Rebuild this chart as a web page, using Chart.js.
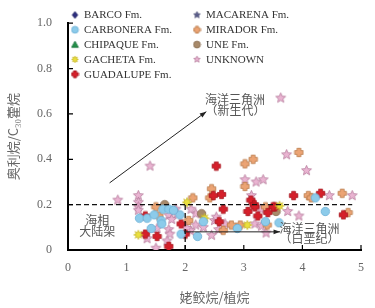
<!DOCTYPE html>
<html>
<head>
<meta charset="utf-8">
<script src="https://cdn.jsdelivr.net/npm/chart.js@4.4.0/dist/chart.umd.min.js"></script>
<style>
  html, body { margin: 0; padding: 0; background: #fff; }
  #wrap { width: 375px; height: 308px; }
</style>
</head>
<body>
<div id="wrap"><canvas id="chart" width="375" height="308"></canvas></div>
<script>
// Veri noktaları [pr/ph, oleanan/C30 hopan]
const barco = [];
const chipaque = [];
const macarena = [];

const carbonera = [
  [4.22, 0.23], [4.39, 0.17], [3.60, 0.12], [2.31, 0.125], [3.37, 0.125], [2.89, 0.095],
  [2.21, 0.06], [1.62, 0.18], [1.72, 0.18], [1.91, 0.155], [1.22, 0.14], [1.35, 0.14],
  [1.47, 0.155], [1.59, 0.13], [1.60, 0.115], [1.42, 0.095], [1.93, 0.07], [1.80, 0.175]
];

const gacheta = [[3.61, 0.195], [2.33, 0.14], [3.06, 0.11], [2.03, 0.21], [1.20, 0.067]];

const guadalupe = [
  [2.53, 0.37], [3.85, 0.24], [4.31, 0.25], [3.53, 0.19], [4.70, 0.155], [2.62, 0.245],
  [2.48, 0.24], [3.12, 0.22], [3.18, 0.20], [3.19, 0.19], [2.65, 0.18], [3.07, 0.17],
  [3.41, 0.165], [3.50, 0.19], [3.24, 0.15], [2.58, 0.125], [1.32, 0.15], [1.93, 0.115],
  [2.00, 0.07], [1.32, 0.07], [1.52, 0.06], [1.72, 0.016]
];

const mirador = [
  [3.02, 0.38], [3.16, 0.40], [3.94, 0.43], [4.10, 0.24], [4.15, 0.23], [4.68, 0.25],
  [4.78, 0.165], [3.02, 0.28], [2.45, 0.27], [2.42, 0.23], [2.13, 0.23], [3.37, 0.19],
  [2.79, 0.11], [2.94, 0.11], [3.40, 0.11], [2.65, 0.087], [1.50, 0.19], [1.55, 0.15],
  [2.06, 0.13]
];

const une = [[1.65, 0.20], [2.28, 0.16], [3.55, 0.17]];

const unknown = [
  [3.63, 0.67], [1.40, 0.37], [3.73, 0.42], [4.07, 0.35], [4.46, 0.24], [4.85, 0.24],
  [3.75, 0.17], [3.94, 0.15], [3.38, 0.075], [3.02, 0.31], [3.21, 0.30], [3.33, 0.31],
  [3.13, 0.24], [3.29, 0.18], [2.18, 0.16], [2.10, 0.18], [2.50, 0.13], [2.53, 0.145],
  [2.18, 0.11], [2.31, 0.10], [2.68, 0.115], [3.19, 0.115], [3.30, 0.105], [2.57, 0.09],
  [2.09, 0.085], [2.45, 0.065], [0.85, 0.22], [1.20, 0.24], [1.20, 0.21], [1.20, 0.19],
  [1.20, 0.175], [1.84, 0.18], [1.86, 0.16], [1.72, 0.153], [1.77, 0.135], [1.52, 0.095],
  [2.03, 0.095], [1.72, 0.09], [1.74, 0.07], [1.35, 0.05], [1.69, 0.04], [1.50, 0.008]
];

const xTicks = [0, 1, 2, 3, 4, 5];
const yTicks = [0, 0.2, 0.4, 0.6, 0.8, 1.0];

// İşaretçi çizen yardımcı fonksiyon
function marker(shape, fill, stroke, r) {
  const s = Math.ceil(r * 2 + 2);
  const c = document.createElement("canvas");
  c.width = s; c.height = s;
  const g = c.getContext("2d");
  const cx = s / 2, cy = s / 2;
  g.beginPath();
  if (shape === "circle") {
    g.arc(cx, cy, r, 0, Math.PI * 2);
  } else if (shape === "star" || shape === "burst") {
    const n = shape === "star" ? 5 : 8;
    const inner = shape === "star" ? r * 0.45 : r * 0.5;
    for (let i = 0; i < n * 2; i++) {
      const rad = i % 2 ? inner : r;
      const a = -Math.PI / 2 + i * Math.PI / n;
      g.lineTo(cx + rad * Math.cos(a), cy + rad * Math.sin(a));
    }
  } else if (shape === "plus") {
    const w = r * 0.45;
    const pts = [[-w, -r], [w, -r], [w, -w], [r, -w], [r, w], [w, w], [w, r], [-w, r], [-w, w], [-r, w], [-r, -w], [-w, -w]];
    pts.forEach(p => g.lineTo(cx + p[0], cy + p[1]));
  } else if (shape === "diamond") {
    g.moveTo(cx, cy - r); g.lineTo(cx + r * 0.8, cy); g.lineTo(cx, cy + r); g.lineTo(cx - r * 0.8, cy);
  } else if (shape === "triangle") {
    g.moveTo(cx, cy - r); g.lineTo(cx + r, cy + r * 0.8); g.lineTo(cx - r, cy + r * 0.8);
  }
  g.closePath();
  g.fillStyle = fill;
  g.fill();
  g.lineWidth = 0.8;
  g.strokeStyle = stroke;
  g.stroke();
  return c;
}

const series = [
  { label: "BARCO Fm.", data: barco, shape: "diamond", fill: "#2d2f80", stroke: "#1c1d5a", r: 4 },
  { label: "CARBONERA Fm.", data: carbonera, shape: "circle", fill: "#8ccbea", stroke: "#6aaed6", r: 4.2 },
  { label: "CHIPAQUE Fm.", data: chipaque, shape: "triangle", fill: "#23914a", stroke: "#17703a", r: 4.2 },
  { label: "GACHETA Fm.", data: gacheta, shape: "burst", fill: "#ebe13c", stroke: "#c9b926", r: 4.6 },
  { label: "GUADALUPE Fm.", data: guadalupe, shape: "plus", fill: "#d6202b", stroke: "#a5121b", r: 4.2 },
  { label: "MACARENA Fm.", data: macarena, shape: "star", fill: "#5d5f8e", stroke: "#43456e", r: 5 },
  { label: "MIRADOR Fm.", data: mirador, shape: "plus", fill: "#eca474", stroke: "#b87848", r: 4.2 },
  { label: "UNE Fm.", data: une, shape: "circle", fill: "#a88a6a", stroke: "#84684c", r: 4.2 },
  { label: "UNKNOWN", data: unknown, shape: "star", fill: "#eab4d2", stroke: "#b47899", r: 5.2 }
];

const datasets = series.map(s => ({
  label: s.label,
  data: s.data.map(p => ({ x: p[0], y: p[1] })),
  pointStyle: marker(s.shape, s.fill, s.stroke, s.r),
  pointRadius: s.r,
  showLine: false
}));

// Legend, oklar, kesikli çizgiler ve yazılar
const decor = {
  id: "decor",
  afterDatasetsDraw(chart) {
    const { ctx, scales: { x, y } } = chart;
    const X = v => x.getPixelForValue(v);
    const Y = v => y.getPixelForValue(v);
    ctx.save();

    // kesikli çizgiler
    ctx.strokeStyle = "#111";
    ctx.lineWidth = 1.3;
    ctx.setLineDash([5, 3]);
    ctx.beginPath();
    ctx.moveTo(X(0), Y(0.2)); ctx.lineTo(X(4.85), Y(0.2));
    ctx.moveTo(X(2), Y(0)); ctx.lineTo(X(2), Y(0.2));
    ctx.stroke();
    ctx.setLineDash([]);

    // oklar
    function arrow(x1, y1, x2, y2) {
      const ax = X(x1), ay = Y(y1), bx = X(x2), by = Y(y2);
      const a = Math.atan2(by - ay, bx - ax);
      ctx.strokeStyle = "#222";
      ctx.fillStyle = "#222";
      ctx.lineWidth = 1;
      ctx.beginPath(); ctx.moveTo(ax, ay); ctx.lineTo(bx, by); ctx.stroke();
      ctx.beginPath();
      ctx.moveTo(bx, by);
      ctx.lineTo(bx - 7 * Math.cos(a - 0.35), by - 7 * Math.sin(a - 0.35));
      ctx.lineTo(bx - 7 * Math.cos(a + 0.35), by - 7 * Math.sin(a + 0.35));
      ctx.closePath(); ctx.fill();
    }
    arrow(0.71, 0.296, 2.36, 0.61);
    arrow(1.98, 0.08, 3.62, 0.08);

    // yazılar
    ctx.fillStyle = "#555";
    ctx.font = "12px 'Noto Sans CJK SC'";
    ctx.textAlign = "center";
    ctx.textBaseline = "middle";
    ctx.fillText("海洋三角洲", X(2.85), Y(0.665));
    ctx.fillText("（新生代）", X(2.86), Y(0.615));
    ctx.fillText("海洋三角洲", X(4.12), Y(0.096));
    ctx.fillText("（白垩纪）", X(4.12), Y(0.05));
    ctx.fillText("海相", X(0.5), Y(0.13));
    ctx.fillText("大陆架", X(0.5), Y(0.08));

    // içe dönük tick çizgileri
    ctx.strokeStyle = "#000";
    ctx.lineWidth = 1.2;
    ctx.beginPath();
    xTicks.forEach(v => { ctx.moveTo(X(v), y.bottom); ctx.lineTo(X(v), y.bottom - 5); });
    yTicks.forEach(v => { ctx.moveTo(x.left, Y(v)); ctx.lineTo(x.left + 5, Y(v)); });
    ctx.stroke();

    // iki sütunlu legend
    ctx.textAlign = "left";
    ctx.font = "11px 'Liberation Serif'";
    ctx.fillStyle = "#333";
    series.forEach((s, i) => {
      const col = i < 5 ? 0 : 1;
      const row = col ? i - 5 : i;
      const mx = col ? 197 : 75;
      const ty = 15 + row * 14.8;
      const m = marker(s.shape, s.fill, s.stroke, 3.4);
      ctx.drawImage(m, mx - m.width / 2, ty - m.height / 2);
      ctx.fillText(s.label, mx + 9, ty + 0.5);
    });
    ctx.restore();
  }
};

new Chart(document.getElementById("chart"), {
  type: "scatter",
  data: { datasets: datasets },
  options: {
    responsive: false,
    animation: false,
    layout: { padding: { top: 12, right: 11, left: 0, bottom: 0 } },
    plugins: { legend: { display: false }, tooltip: { enabled: false } },
    scales: {
      x: {
        min: 0, max: 5,
        afterBuildTicks: s => { s.ticks = xTicks.map(v => ({ value: v })); },
        ticks: { color: "#666", font: { family: "Liberation Serif", size: 12 }, padding: 11 },
        grid: { display: false, drawTicks: false },
        border: { color: "#000", width: 2 },
        title: { display: true, text: "姥鲛烷/植烷", color: "#666", font: { family: "Noto Sans CJK SC", size: 13 }, padding: { top: 0, bottom: 3 } },
        afterFit: s => { s.height = 58; }
      },
      y: {
        min: 0, max: 1,
        afterBuildTicks: s => { s.ticks = yTicks.map(v => ({ value: v })); },
        ticks: {
          color: "#666", font: { family: "Liberation Serif", size: 12 }, padding: 16,
          callback: v => v === 0 ? "0" : v.toFixed(1)
        },
        grid: { display: false, drawTicks: false },
        border: { color: "#000", width: 2 },
        title: { display: true, text: "奥利烷/C₃₀藿烷", color: "#666", font: { family: "Noto Sans CJK SC", size: 13 }, padding: { top: 5, bottom: 0 } },
        afterFit: s => { s.width = 68; }
      }
    }
  },
  plugins: [decor]
});
</script>
</body>
</html>
